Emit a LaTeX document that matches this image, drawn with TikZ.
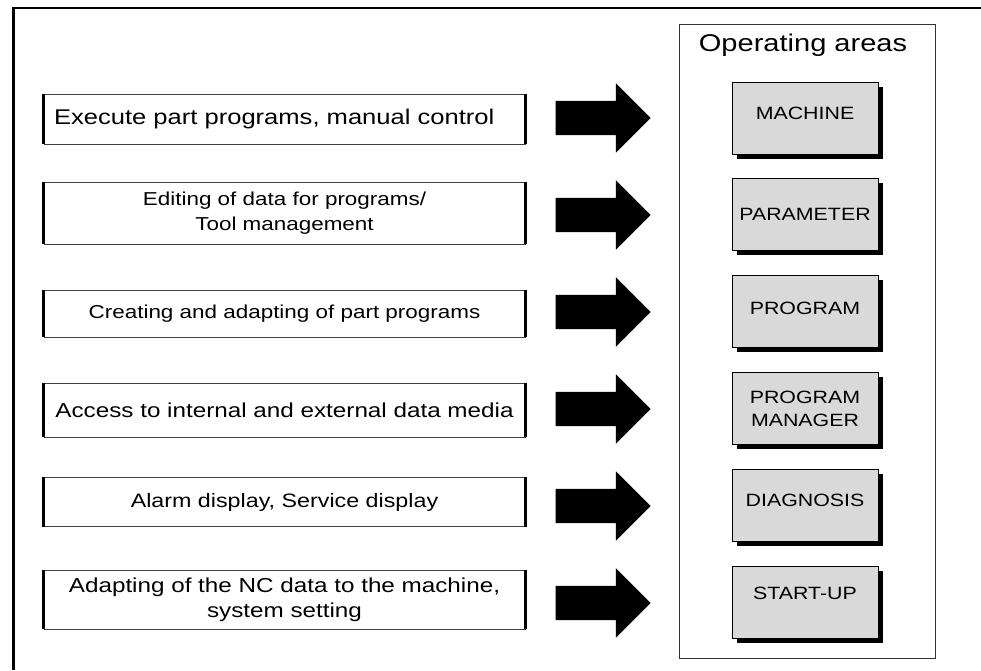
\documentclass[tikz,border=0pt]{standalone}
\usepackage{fontspec}
\setmainfont{Liberation Sans}[FakeStretch=1.2]
\usetikzlibrary{shapes, shapes.arrows, shadows, positioning}
\tikzset{
    task/.style={draw=black!75, line width=0.8pt, inner xsep=10pt, inner ysep=0pt,
        text width=461pt, align=center},
    side/.style={line width=3pt},
    area/.style={draw=black, line width=1pt, fill=gray!30, minimum width=146pt,
        minimum height=72pt, inner sep=0pt, align=center,
        font=\fontsize{17.8}{23}\selectfont,
        drop shadow={shadow xshift=4.5pt, shadow yshift=-4.5pt, fill=black, opacity=1}},
    lift/.style={text depth=#1},
    bigarrow/.style={single arrow, fill=black, draw=none, inner sep=0pt,
        text height=17pt, text depth=17pt,
        minimum width=69pt, minimum height=95pt, single arrow head extend=17.5pt,
        single arrow tip angle=90}
}
\newcommand{\fsz}[1]{\fontsize{#1}{25}\selectfont}

\begin{document}
\begin{tikzpicture}[x=1pt, y=-1pt]
    \useasboundingbox (0,0) rectangle (981,670);
    % frame
    \draw[line width=3pt] (13,670) -- (13,8);
    \draw[line width=1.2pt] (12,8) -- (981,8);
    % tasks
    \node[task, align=left, minimum height=50pt, font=\fsz{21.3}] (t1) at (284.5,119)
        {Execute part programs, manual control};
    \node[task, minimum height=62pt, font=\fsz{18.7}] (t2) at (284.5,213)
        {Editing of data for programs/\\Tool management};
    \node[task, minimum height=47pt, font=\fsz{18.7}] (t3) at (284.5,313.5)
        {Creating and adapting of part programs};
    \node[task, minimum height=54pt, font=\fsz{20.2}] (t4) at (284.5,410)
        {Access to internal and external data media};
    \node[task, minimum height=49pt, font=\fsz{19.4}] (t5) at (284.5,502)
        {Alarm display, Service display};
    \node[task, minimum height=59pt, font=\fsz{20.2}] (t6) at (284.5,599.5)
        {Adapting of the NC data to the machine,\\system setting};
    \foreach \i in {1,...,6}{
        \draw[side] (t\i.north west) -- (t\i.south west);
        \draw[side] (t\i.north east) -- (t\i.south east);
    }
    % operating areas
    \node[draw=black!80, line width=0.8pt, minimum width=256pt, minimum height=634pt,
        inner sep=0pt] (areas) at (807,341) {};
    \node[font=\fontsize{24.2}{28}\selectfont] (title) at (803,45) {Operating areas};
    \node[area, lift=10pt] (m1) at (805,118) {MACHINE};
    \node[area] (m2) at (805,214) {PARAMETER};
    \node[area, lift=6pt] (m3) at (805,311) {PROGRAM};
    \node[area] (m4) at (805,408.5) {PROGRAM\\MANAGER};
    \node[area, lift=10pt] (m5) at (805,505.5) {DIAGNOSIS};
    \node[area, lift=18pt] (m6) at (805,602) {START-UP};
    % arrows
    \foreach \i in {1,...,6}{
        \node[bigarrow] (a\i) at (594.5,{118+97*(\i-1)}) {};
    }
\end{tikzpicture}
\end{document}
